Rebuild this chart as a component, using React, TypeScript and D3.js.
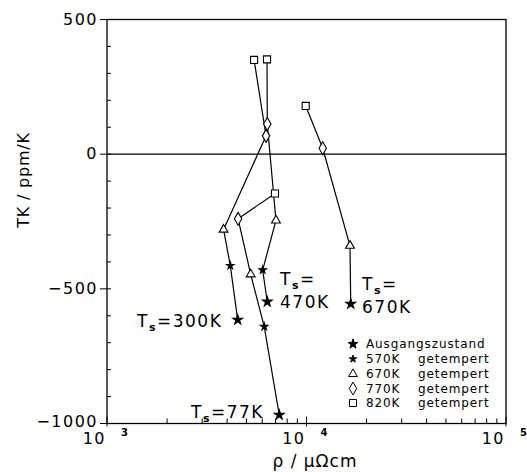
import React from "react";
import * as d3 from "d3";

const chains = ["77K", "300K", "470K", "670K"];
const stateNames = ["Ausgangszustand", "570K", "670K", "770K", "820K"];
const rhoAusgang = [7300, 4520, 6360, 16660];
const tkAusgang = [-968, -615, -548, -556];
const rho570: (number | null)[] = [6140, 4150, 6030, null];
const tk570: (number | null)[] = [-640, -414, -430, null];
const rho670 = [5250, 3840, 7030, 16520];
const tk670 = [-446, -280, -246, -340];
const rho770 = [4540, 6270, 6360, 12060];
const tk770 = [-240, 68, 112, 22];
const rho820 = [6950, 5460, 6340, 9910];
const tk820 = [-146, 350, 352, 179];
const legendFirst = ["Ausgangszustand", "570K", "670K", "770K", "820K"];
const legendSecond = ["", "getempert", "getempert", "getempert", "getempert"];
const yTickLabels = [500, 0, -500, -1000];
const xDecades = [3, 4, 5];

const W = 527, H = 472;
const L = 107, R = 506, T = 19.5, B = 423.5;
const FONT = "'DejaVu Sans', sans-serif";

const rhoSeries = [rhoAusgang, rho570, rho670, rho770, rho820];
const tkSeries = [tkAusgang, tk570, tk670, tk770, tk820];

export default function App() {
  const x = d3.scaleLog().domain([1e3, 1e5]).range([L, R]);
  const y = d3.scaleLinear().domain([-1000, 500]).range([B, T]);

  const symbols = [
    d3.symbol(d3.symbolStar, 30),
    d3.symbol(d3.symbolStar, 17),
    d3.symbol(d3.symbolTriangle, 34),
    d3.symbol(d3.symbolDiamond, 48),
    d3.symbol(d3.symbolSquare, 50),
  ];
  const filled = [true, true, false, false, false];

  const line = d3.line<[number, number]>().x((d) => x(d[0])).y((d) => y(d[1]));

  const chainPaths = chains.map((c, ci) => {
    const pts: [number, number][] = [];
    rhoSeries.forEach((rs, si) => {
      const r = rs[ci];
      const t = tkSeries[si][ci];
      if (r != null && t != null) pts.push([r, t]);
    });
    return line(pts) || "";
  });

  const yMinor = d3.range(-1000, 501, 100);
  const xMinor = x.ticks().filter((v) => {
    const m = v / Math.pow(10, Math.floor(Math.log10(v) + 1e-9));
    return Math.round(m) !== 1;
  });

  const legendY = [344, 359, 374, 388.5, 403];

  return (
    <svg width={W} height={H} style={{ position: "absolute", left: 0, top: 0, background: "#fff" }}>
      <rect x={0} y={0} width={W} height={H} fill="#fff" />
      <rect x={L} y={T} width={R - L} height={B - T} fill="none" stroke="#000" strokeWidth={1.3} />
      <line x1={L} x2={R} y1={y(0)} y2={y(0)} stroke="#000" strokeWidth={1.2} />
      {yMinor.map((v) => {
        const major = v % 500 === 0;
        return (
          <line key={"yt" + v} x1={major ? L - 7 : L} x2={L + 4} y1={y(v)} y2={y(v)} stroke="#000" strokeWidth={1} />
        );
      })}
      {yTickLabels.map((v) => (
        <text key={"yl" + v} x={L - 9} y={y(v) + (v === -1000 ? 3 : 5)} textAnchor="end" fontFamily={FONT} fontSize={16} letterSpacing={1.5}>
          {v < 0 ? "\u2212" + Math.abs(v) : String(v)}
        </text>
      ))}
      {xMinor.map((v, i) => (
        <line key={"xt" + i} x1={x(v)} x2={x(v)} y1={B} y2={B - 5} stroke="#000" strokeWidth={1} />
      ))}
      {xDecades.map((d) => (
        <line key={"xm" + d} x1={x(Math.pow(10, d))} x2={x(Math.pow(10, d))} y1={B + 3} y2={B - 7} stroke="#000" strokeWidth={1} />
      ))}
      {xDecades.map((d) => (
        <text key={"xl" + d} x={x(Math.pow(10, d)) - 1} y={B + 20} textAnchor="end" fontFamily={FONT} fontSize={16} letterSpacing={1.5}>
          10
        </text>
      ))}
      {xDecades.map((d) => (
        <text key={"xs" + d} x={x(Math.pow(10, d)) + 14} y={B + 12} textAnchor="start" fontFamily={FONT} fontSize={10} fontWeight="bold">
          {d}
        </text>
      ))}
      <text x={315} y={467} textAnchor="middle" fontFamily={FONT} fontSize={17} letterSpacing={1}>
        {"\u03C1  /  \u03BC\u03A9cm"}
      </text>
      <text transform={`translate(29,${180}) rotate(-90)`} textAnchor="middle" fontFamily={FONT} fontSize={16} letterSpacing={0.8}>
        {"TK / ppm/K"}
      </text>
      {chainPaths.map((p, i) => (
        <path key={"cp" + i} d={p} fill="none" stroke="#000" strokeWidth={1.2} />
      ))}
      {rhoSeries.map((rs, si) =>
        rs.map((r, ci) => {
          const t = tkSeries[si][ci];
          if (r == null || t == null) return null;
          return (
            <path
              key={"m" + si + "-" + ci}
              d={symbols[si]() || ""}
              transform={`translate(${x(r)},${y(t)})`}
              fill={filled[si] ? "#000" : "#fff"}
              stroke="#000"
              strokeWidth={1.1}
            />
          );
        })
      )}
      <text x={137} y={327} fontFamily={FONT} fontSize={17} letterSpacing={1.5}>
        T<tspan dy={4} fontSize={11} fontWeight="bold">s</tspan>
        <tspan dy={-4}>=300K</tspan>
      </text>
      <text x={280} y={285} fontFamily={FONT} fontSize={17} letterSpacing={1.5}>
        T<tspan dy={4} fontSize={11} fontWeight="bold">s</tspan>
        <tspan dy={-4}>=</tspan>
      </text>
      <text x={280} y={308} fontFamily={FONT} fontSize={17} letterSpacing={1.5}>470K</text>
      <text x={362} y={290} fontFamily={FONT} fontSize={17} letterSpacing={1.5}>
        T<tspan dy={4} fontSize={11} fontWeight="bold">s</tspan>
        <tspan dy={-4}>=</tspan>
      </text>
      <text x={362} y={313} fontFamily={FONT} fontSize={17} letterSpacing={1.5}>670K</text>
      <text x={191} y={418} fontFamily={FONT} fontSize={17} letterSpacing={1.5}>
        T<tspan dy={4} fontSize={11} fontWeight="bold">s</tspan>
        <tspan dy={-4}>=77K</tspan>
      </text>
      {stateNames.map((s, i) => (
        <g key={"lg" + s}>
          <path
            d={symbols[i]() || ""}
            transform={`translate(353,${legendY[i]})`}
            fill={filled[i] ? "#000" : "#fff"}
            stroke="#000"
            strokeWidth={1}
          />
          <text x={366} y={legendY[i] + 4} fontFamily={FONT} fontSize={12} letterSpacing={0.9}>
            {legendFirst[i]}
          </text>
          {legendSecond[i] ? (
            <text x={418} y={legendY[i] + 4} fontFamily={FONT} fontSize={12} letterSpacing={0.9}>
              {legendSecond[i]}
            </text>
          ) : null}
        </g>
      ))}
    </svg>
  );
}
